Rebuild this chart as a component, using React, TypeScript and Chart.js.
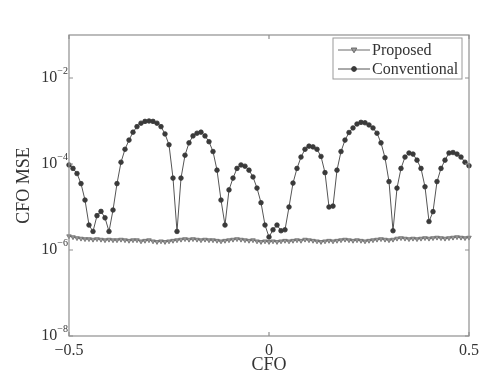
import React, { useEffect, useRef } from 'react';
import { Chart, registerables } from 'chart.js';

Chart.register(...registerables);

const cfo = [
  -0.5, -0.49, -0.48, -0.47, -0.46, -0.45, -0.44, -0.43, -0.42, -0.41,
  -0.4, -0.39, -0.38, -0.37, -0.36, -0.35, -0.34, -0.33, -0.32, -0.31,
  -0.3, -0.29, -0.28, -0.27, -0.26, -0.25, -0.24, -0.23, -0.22, -0.21,
  -0.2, -0.19, -0.18, -0.17, -0.16, -0.15, -0.14, -0.13, -0.12, -0.11,
  -0.1, -0.09, -0.08, -0.07, -0.06, -0.05, -0.04, -0.03, -0.02, -0.01,
  0, 0.01, 0.02, 0.03, 0.04, 0.05, 0.06, 0.07, 0.08, 0.09,
  0.1, 0.11, 0.12, 0.13, 0.14, 0.15, 0.16, 0.17, 0.18, 0.19,
  0.2, 0.21, 0.22, 0.23, 0.24, 0.25, 0.26, 0.27, 0.28, 0.29,
  0.3, 0.31, 0.32, 0.33, 0.34, 0.35, 0.36, 0.37, 0.38, 0.39,
  0.4, 0.41, 0.42, 0.43, 0.44, 0.45, 0.46, 0.47, 0.48, 0.49,
  0.5,
];

const proposedMse = [
  2.1e-6, 2.0e-6, 1.9e-6, 1.85e-6, 1.8e-6, 1.8e-6, 1.75e-6, 1.8e-6, 1.75e-6, 1.7e-6, 1.75e-6,
  1.7e-6, 1.7e-6, 1.75e-6, 1.7e-6, 1.65e-6, 1.7e-6, 1.7e-6, 1.6e-6, 1.65e-6, 1.7e-6,
  1.6e-6, 1.55e-6, 1.6e-6, 1.55e-6, 1.6e-6, 1.65e-6, 1.7e-6, 1.75e-6, 1.8e-6, 1.75e-6,
  1.8e-6, 1.75e-6, 1.7e-6, 1.75e-6, 1.7e-6, 1.7e-6, 1.65e-6, 1.6e-6, 1.65e-6, 1.7e-6,
  1.75e-6, 1.8e-6, 1.75e-6, 1.7e-6, 1.65e-6, 1.7e-6, 1.6e-6, 1.55e-6, 1.6e-6, 1.55e-6, 1.6e-6,
  1.55e-6, 1.6e-6, 1.65e-6, 1.6e-6, 1.65e-6, 1.7e-6, 1.65e-6, 1.75e-6, 1.7e-6, 1.65e-6,
  1.6e-6, 1.55e-6, 1.6e-6, 1.65e-6, 1.6e-6, 1.65e-6, 1.7e-6, 1.75e-6, 1.7e-6, 1.65e-6,
  1.7e-6, 1.65e-6, 1.6e-6, 1.65e-6, 1.7e-6, 1.75e-6, 1.8e-6, 1.75e-6, 1.7e-6, 1.75e-6,
  1.85e-6, 1.9e-6, 1.85e-6, 1.8e-6, 1.85e-6, 1.8e-6, 1.85e-6, 1.9e-6, 1.85e-6, 1.9e-6,
  1.95e-6, 1.9e-6, 1.85e-6, 1.9e-6, 1.95e-6, 2.0e-6, 1.95e-6, 1.9e-6, 1.95e-6, 2.0e-6,
];

const conventionalMse = [
  9.5e-5, 7.9e-5, 6.0e-5, 3.5e-5, 1.45e-5, 3.8e-6, 2.7e-6, 6.3e-6, 7.9e-6, 5.6e-6,
  2.7e-6, 8.5e-6, 3.5e-5, 1.1e-4, 2.2e-4, 3.6e-4, 5.5e-4, 7.4e-4, 8.9e-4, 9.8e-4,
  1.0e-3, 9.8e-4, 8.9e-4, 7.4e-4, 5.0e-4, 2.8e-4, 4.7e-5, 2.7e-6, 4.7e-5, 1.6e-4,
  3.1e-4, 4.5e-4, 5.2e-4, 5.5e-4, 4.5e-4, 3.3e-4, 1.95e-4, 7.2e-5, 1.45e-5, 3.8e-6,
  2.5e-5, 4.7e-5, 7.9e-5, 9.5e-5, 8.9e-5, 7.2e-5, 5.0e-5, 2.75e-5, 1.26e-5, 3.8e-6,
  2.0e-6, 2.95e-6, 3.8e-6, 2.8e-6, 2.95e-6, 1.0e-5, 3.6e-5, 7.9e-5, 1.45e-4, 2.2e-4,
  2.6e-4, 2.5e-4, 2.2e-4, 1.5e-4, 6.3e-5, 1.0e-5, 1.05e-5, 7.2e-5, 1.95e-4, 3.6e-4,
  5.4e-4, 6.9e-4, 8.5e-4, 9.3e-4, 9.1e-4, 8.1e-4, 6.9e-4, 5.2e-4, 3.1e-4, 1.4e-4,
  3.9e-5, 2.8e-6, 2.75e-5, 7.9e-5, 1.45e-4, 1.8e-4, 1.7e-4, 1.23e-4, 7.9e-5, 2.95e-5,
  4.6e-6, 7.8e-6, 3.9e-5, 7.9e-5, 1.23e-4, 1.8e-4, 1.85e-4, 1.7e-4, 1.45e-4, 1.1e-4,
  9.1e-5,
];

const seriesNames = ['Proposed', 'Conventional'];
const xTickValues = [-0.5, 0, 0.5];
const xTickLabels = ['\u22120.5', '0', '0.5'];
const yTickValues = [1e-8, 1e-6, 1e-4, 1e-2];
const yTickExponents = ['\u22128', '\u22126', '\u22124', '\u22122'];
const xTitle = 'CFO';
const yTitle = 'CFO MSE';

const FONT = "'Liberation Serif', 'Times New Roman', serif";
const TEXT = '#333333';
const FRAME = '#8f8f8f';
const CONV_COLOR = '#3a3a3a';
const PROP_LINE = '#6a6a6a';
const PROP_FILL = '#9a9a9a';

function drawTriangleDown(ctx: CanvasRenderingContext2D, x: number, y: number, r: number) {
  ctx.beginPath();
  ctx.moveTo(x - r, y - r * 0.7);
  ctx.lineTo(x + r, y - r * 0.7);
  ctx.lineTo(x, y + r);
  ctx.closePath();
  ctx.fill();
  ctx.stroke();
}

const framePlugin = {
  id: 'matlabFrame',
  afterDraw(chart: any) {
    const { ctx, chartArea: a, scales } = chart;
    const xs = scales.x;
    const ys = scales.y;
    ctx.save();
    ctx.strokeStyle = FRAME;
    ctx.lineWidth = 1.2;
    ctx.strokeRect(a.left, a.top, a.right - a.left, a.bottom - a.top);
    ctx.beginPath();
    xs.ticks.forEach((t: any) => {
      const px = xs.getPixelForValue(t.value);
      ctx.moveTo(px, a.bottom);
      ctx.lineTo(px, a.bottom - 4);
      ctx.moveTo(px, a.top);
      ctx.lineTo(px, a.top + 4);
    });
    ys.ticks.forEach((t: any) => {
      const py = ys.getPixelForValue(t.value);
      ctx.moveTo(a.left, py);
      ctx.lineTo(a.left + 4, py);
      ctx.moveTo(a.right, py);
      ctx.lineTo(a.right - 4, py);
    });
    ctx.stroke();

    ctx.fillStyle = TEXT;
    ctx.textAlign = 'right';
    ctx.textBaseline = 'alphabetic';
    ys.ticks.forEach((t: any) => {
      const idx = yTickValues.indexOf(t.value);
      if (idx < 0) return;
      const py = ys.getPixelForValue(t.value);
      const exp = yTickExponents[idx];
      ctx.font = `10px ${FONT}`;
      const ew = ctx.measureText(exp).width;
      const ex = a.left - 1;
      ctx.fillText(exp, ex, py - 4);
      ctx.font = `16px ${FONT}`;
      ctx.fillText('10', ex - ew, py + 4);
    });

    const lx = a.right - 136;
    const ly = a.top + 3;
    const lw = 129;
    const lh = 41;
    ctx.fillStyle = '#ffffff';
    ctx.fillRect(lx, ly, lw, lh);
    ctx.strokeStyle = '#9a9a9a';
    ctx.lineWidth = 1;
    ctx.strokeRect(lx, ly, lw, lh);
    const rows = [ly + 12, ly + 31];
    chart.data.datasets.forEach((ds: any, i: number) => {
      const cy = rows[i];
      const x0 = lx + 5;
      const x1 = lx + 37;
      ctx.strokeStyle = ds.borderColor;
      ctx.lineWidth = 1;
      ctx.beginPath();
      ctx.moveTo(x0, cy);
      ctx.lineTo(x1, cy);
      ctx.stroke();
      const mx = (x0 + x1) / 2;
      ctx.fillStyle = ds.pointBackgroundColor;
      ctx.strokeStyle = ds.pointBorderColor;
      if (i === 0) {
        drawTriangleDown(ctx, mx, cy, 2.8);
      } else {
        ctx.beginPath();
        ctx.arc(mx, cy, 2.4, 0, Math.PI * 2);
        ctx.fill();
        ctx.stroke();
      }
      ctx.fillStyle = TEXT;
      ctx.font = `16px ${FONT}`;
      ctx.textAlign = 'left';
      ctx.textBaseline = 'middle';
      ctx.fillText(ds.label, x1 + 2, cy + 1);
    });
    ctx.restore();
  },
};

export default function App() {
  const canvasRef = useRef<HTMLCanvasElement | null>(null);

  useEffect(() => {
    document.body.style.margin = '0';
    const canvas = canvasRef.current;
    if (!canvas) return;
    const chart = new Chart(canvas, {
      type: 'line',
      data: {
        datasets: [
          {
            label: seriesNames[0],
            data: cfo.map((x, i) => ({ x, y: proposedMse[i] })),
            borderColor: PROP_LINE,
            borderWidth: 1,
            pointStyle: 'triangle',
            rotation: 180,
            pointRadius: 2.6,
            pointBackgroundColor: PROP_FILL,
            pointBorderColor: PROP_LINE,
            pointBorderWidth: 0.8,
            tension: 0,
            clip: false,
          } as any,
          {
            label: seriesNames[1],
            data: cfo.map((x, i) => ({ x, y: conventionalMse[i] })),
            borderColor: '#555555',
            borderWidth: 1,
            pointStyle: 'circle',
            pointRadius: 2.3,
            pointBackgroundColor: CONV_COLOR,
            pointBorderColor: CONV_COLOR,
            pointBorderWidth: 0.8,
            tension: 0,
            clip: false,
          } as any,
        ],
      },
      options: {
        responsive: false,
        animation: false,
        layout: { padding: { top: 35, right: 17, left: 0, bottom: 0 } },
        plugins: {
          legend: { display: false },
          tooltip: { enabled: false },
        },
        scales: {
          x: {
            type: 'linear',
            min: -0.5,
            max: 0.5,
            afterBuildTicks: (s: any) => {
              s.ticks = xTickValues.map((v) => ({ value: v }));
            },
            afterFit: (s: any) => {
              s.height = 38;
            },
            ticks: {
              autoSkip: false,
              maxRotation: 0,
              padding: 5,
              color: TEXT,
              font: { family: FONT, size: 16 },
              callback: (v: any) => {
                const idx = xTickValues.indexOf(Number(v));
                return idx >= 0 ? xTickLabels[idx] : '';
              },
            },
            grid: { display: false, drawTicks: false },
            border: { display: false },
            title: {
              display: true,
              text: xTitle,
              color: TEXT,
              font: { family: FONT, size: 18, lineHeight: 1.0 },
              padding: { top: 0, bottom: 0 },
            },
          },
          y: {
            type: 'logarithmic',
            min: 1e-8,
            max: 1e-1,
            afterBuildTicks: (s: any) => {
              s.ticks = yTickValues.map((v) => ({ value: v }));
            },
            afterFit: (s: any) => {
              s.width = 69;
            },
            ticks: { display: false },
            grid: { display: false, drawTicks: false },
            border: { display: false },
            title: {
              display: true,
              text: yTitle,
              color: TEXT,
              font: { family: FONT, size: 18 },
              padding: { top: 13, bottom: 0 },
            },
          },
        },
      } as any,
      plugins: [framePlugin],
    });
    return () => chart.destroy();
  }, []);

  return (
    <canvas
      ref={canvasRef}
      width={486}
      height={374}
      style={{ display: 'block', position: 'fixed', left: 0, top: 0 }}
    />
  );
}
